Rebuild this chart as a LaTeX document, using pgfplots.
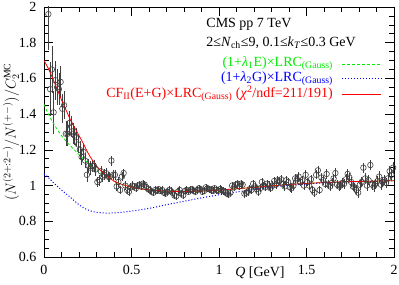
\documentclass[border=0pt]{standalone}
\usepackage{fontspec}
\setmainfont{Liberation Serif}
\usepackage{pgfplots}
\usepackage{pgfplotstable}
\pgfplotsset{compat=1.18}
\definecolor{rgreen}{RGB}{0,235,0}
\definecolor{rblue}{RGB}{0,0,255}
\definecolor{rred}{RGB}{255,0,0}
\pgfplotstableread{
q v e
0.025 1.96 0.20
0.035 1.54 0.15
0.045 1.65 0.13
0.055 1.41 0.12
0.065 1.59 0.11
0.075 1.55 0.10
0.085 1.54 0.09
0.095 1.58 0.09
0.105 1.43 0.08
0.115 1.45 0.08
0.125 1.29 0.07
0.135 1.29 0.07
0.145 1.35 0.065
0.155 1.33 0.06
0.165 1.29 0.06
0.175 1.28 0.055
0.185 1.27 0.05
0.195 1.23 0.05
0.205 1.20 0.05
0.215 1.16 0.045
0.225 1.19 0.045
0.235 1.14 0.04
0.245 1.06 0.04
0.255 1.11 0.04
0.265 1.10 0.04
0.275 1.11 0.035
0.285 1.11 0.035
0.295 1.09 0.035
0.305 1.02 0.03
0.315 1.03 0.03
0.325 1.08 0.03
0.335 1.05 0.03
0.345 1.06 0.03
0.355 1.07 0.03
0.365 1.05 0.028
0.375 1.05 0.028
0.385 1.14 0.028
0.395 1.06 0.027
0.405 1.06 0.027
0.415 0.995 0.026
0.425 1.02 0.026
0.435 0.975 0.025
0.445 1.05 0.025
0.455 1.07 0.025
0.465 1.00 0.024
0.475 0.975 0.024
0.485 0.965 0.023
0.495 0.99 0.023
0.505 1.00 0.023
0.515 0.995 0.022
0.525 0.985 0.022
0.535 1.00 0.022
0.545 1.005 0.022
0.555 0.995 0.021
0.565 1.01 0.021
0.575 1.005 0.021
0.585 0.99 0.021
0.595 0.98 0.02
0.605 0.975 0.02
0.615 0.965 0.02
0.625 0.96 0.02
0.635 0.975 0.02
0.645 0.97 0.02
0.655 0.98 0.02
0.665 0.97 0.02
0.675 0.975 0.02
0.685 0.96 0.02
0.695 0.955 0.02
0.705 0.965 0.02
0.715 0.975 0.02
0.725 0.97 0.02
0.735 0.96 0.02
0.745 0.945 0.02
0.755 0.94 0.02
0.765 0.965 0.02
0.775 0.975 0.02
0.785 0.955 0.02
0.795 0.945 0.02
0.805 0.97 0.02
0.815 0.975 0.02
0.825 0.965 0.02
0.835 0.975 0.02
0.845 0.98 0.02
0.855 0.97 0.02
0.865 0.965 0.02
0.875 0.975 0.02
0.885 0.985 0.02
0.895 0.98 0.02
0.905 0.965 0.02
0.915 0.97 0.02
0.925 0.99 0.02
0.935 0.985 0.02
0.945 0.98 0.02
0.955 0.975 0.02
0.965 0.97 0.02
0.975 0.985 0.02
0.985 0.975 0.02
0.995 0.97 0.02
1.005 0.98 0.021
1.015 0.975 0.021
1.025 0.97 0.021
1.035 0.965 0.021
1.045 0.955 0.021
1.055 0.95 0.021
1.065 0.96 0.021
1.075 1.00 0.021
1.085 0.99 0.021
1.095 1.005 0.021
1.105 1.01 0.021
1.115 0.995 0.021
1.125 1.01 0.021
1.135 1.005 0.022
1.145 0.955 0.022
1.155 0.96 0.022
1.165 0.965 0.022
1.175 0.98 0.022
1.185 0.975 0.022
1.195 1.01 0.022
1.205 0.995 0.022
1.215 0.98 0.022
1.225 0.965 0.022
1.235 0.985 0.022
1.245 1.02 0.022
1.255 1.00 0.022
1.265 0.99 0.022
1.275 1.01 0.022
1.285 1.00 0.023
1.295 0.985 0.023
1.305 1.00 0.023
1.315 1.025 0.023
1.325 1.005 0.023
1.335 1.03 0.023
1.345 1.025 0.023
1.355 1.035 0.023
1.365 1.01 0.023
1.375 0.995 0.023
1.385 1.03 0.024
1.395 1.02 0.024
1.405 0.99 0.024
1.415 0.985 0.024
1.425 1.00 0.024
1.435 1.04 0.024
1.445 1.035 0.024
1.455 1.05 0.024
1.465 1.02 0.024
1.475 1.03 0.025
1.485 1.00 0.025
1.495 1.06 0.025
1.505 1.02 0.025
1.515 1.00 0.025
1.525 1.035 0.025
1.535 0.975 0.025
1.545 0.96 0.025
1.555 1.06 0.025
1.565 1.085 0.025
1.575 0.975 0.025
1.585 1.045 0.026
1.595 1.03 0.026
1.605 1.01 0.026
1.615 1.065 0.026
1.625 1.005 0.026
1.635 0.995 0.026
1.645 1.015 0.026
1.655 1.04 0.026
1.665 1.07 0.026
1.675 1.005 0.026
1.685 0.995 0.027
1.695 1.00 0.027
1.705 1.015 0.027
1.715 1.01 0.027
1.725 1.035 0.027
1.735 1.065 0.027
1.745 1.045 0.027
1.755 1.02 0.027
1.765 0.995 0.027
1.775 0.99 0.027
1.785 0.975 0.028
1.795 0.96 0.028
1.805 1.005 0.028
1.815 1.02 0.028
1.825 1.10 0.028
1.835 1.04 0.028
1.845 1.00 0.028
1.855 1.03 0.028
1.865 1.115 0.028
1.875 1.005 0.028
1.885 0.995 0.029
1.895 1.01 0.029
1.905 1.025 0.029
1.915 1.05 0.029
1.925 1.005 0.029
1.935 1.02 0.029
1.945 1.03 0.029
1.955 1.015 0.029
1.965 1.04 0.03
1.975 1.08 0.03
1.985 1.06 0.03
1.995 1.10 0.03
}\datatable
\begin{document}
\begin{tikzpicture}
\begin{axis}[
  name=ax,
  width=350pt, height=250pt, scale only axis,
  xmin=0, xmax=2, ymin=0.6, ymax=2,
  xtick={0,0.5,1,1.5,2}, ytick={0.6,0.8,1,1.2,1.4,1.6,1.8,2},
  minor x tick num=4, minor y tick num=3,
  tick align=inside, xtick pos=both, ytick pos=both,
  major tick length=9pt, minor tick length=5pt,
  axis line style={line width=0.9pt},
  every tick/.style={black, line width=0.7pt},
  font=\fontsize{14}{16}\selectfont,
  /pgf/number format/assume math mode=true,
  ticklabel style={font=\fontsize{14}{16}\selectfont},
  yticklabel style={xshift=-4pt},
  xticklabel style={yshift=-5pt},
  xlabel={\textit{Q} [GeV]},
  xlabel style={at={(axis description cs:0.617,0)}, anchor=north, yshift=-5pt, inner sep=4.7pt},
  ylabel={$(N^{(2+:2-)}/N^{(+-)})/C_2^{\mathrm{MC}}$},
  ylabel style={at={(axis description cs:-0.094,0.5)}, anchor=center},
]
\addplot[only marks, mark=o, mark size=2.8pt, black!75, mark options={line width=0.6pt},
  error bars/.cd, y dir=both, y explicit,
  error bar style={black!75, line width=0.6pt}, error mark=none]
  table[x=q, y=v, y error=e] {\datatable};
\addplot[draw=rgreen, dash pattern=on 3pt off 2pt, line width=0.8pt, smooth] coordinates {
(0,1.455) (0.025,1.40) (0.05,1.355) (0.075,1.315) (0.1,1.28) (0.125,1.25) (0.15,1.223) (0.175,1.198) (0.2,1.173) (0.225,1.15) (0.25,1.128) (0.275,1.108) (0.3,1.09) (0.325,1.072) (0.35,1.058) (0.375,1.043) (0.4,1.025) (0.45,1.005) (0.5,0.992) (0.55,0.982) (0.6,0.976) (0.7,0.969) (0.8,0.966) (0.9,0.969) (1.0,0.975) (1.1,0.982) (1.2,0.99) (1.3,0.998) (1.4,1.006) (1.5,1.012) (1.6,1.017) (1.7,1.021) (1.8,1.023) (1.9,1.025) (2.0,1.027)};
\addplot[draw=rblue, dotted, line width=1pt, smooth] coordinates {
(0,1.065) (0.025,1.045) (0.05,1.02) (0.075,0.997) (0.1,0.975) (0.125,0.955) (0.15,0.935) (0.175,0.913) (0.2,0.893) (0.225,0.876) (0.25,0.864) (0.275,0.855) (0.3,0.85) (0.35,0.846) (0.4,0.847) (0.45,0.851) (0.5,0.857) (0.6,0.872) (0.7,0.893) (0.8,0.912) (0.9,0.931) (1.0,0.948) (1.1,0.964) (1.2,0.978) (1.3,0.991) (1.4,1.001) (1.5,1.009) (1.6,1.015) (1.7,1.019) (1.8,1.022) (1.9,1.024) (2.0,1.026)};
\addplot[draw=rred, line width=0.8pt, smooth] coordinates {
(0,1.70) (0.025,1.655) (0.05,1.60) (0.075,1.54) (0.1,1.48) (0.125,1.425) (0.15,1.37) (0.175,1.325) (0.2,1.28) (0.225,1.235) (0.25,1.185) (0.275,1.145) (0.3,1.11) (0.325,1.083) (0.35,1.062) (0.375,1.043) (0.4,1.025) (0.45,1.005) (0.5,0.992) (0.55,0.982) (0.6,0.976) (0.7,0.969) (0.8,0.966) (0.9,0.969) (1.0,0.975) (1.1,0.982) (1.2,0.99) (1.3,0.998) (1.4,1.006) (1.5,1.012) (1.6,1.017) (1.7,1.021) (1.8,1.023) (1.9,1.025) (2.0,1.027)};
% legend (text and key lines)
\node[anchor=east, text=rgreen, inner sep=0pt] at (axis description cs:0.826,0.772) {(1+\textit{λ}\textsubscript{1}E)×LRC\textsubscript{(Gauss)}};
\node[anchor=east, text=rblue, inner sep=0pt] at (axis description cs:0.826,0.712) {(1+\textit{λ}\textsubscript{2}G)×LRC\textsubscript{(Gauss)}};
\node[anchor=east, text=rred, inner sep=0pt] at (axis description cs:0.826,0.652) {CF\textsubscript{II}(E+G)×LRC\textsubscript{(Gauss)} (\textit{χ}\textsuperscript{2}/ndf=211/191)};
\draw[draw=rgreen, dash pattern=on 3pt off 2pt, line width=0.8pt] (axis description cs:0.851,0.772) -- (axis description cs:0.963,0.772);
\draw[draw=rblue, dotted, line width=1pt] (axis description cs:0.851,0.712) -- (axis description cs:0.963,0.712);
\draw[draw=rred, line width=0.8pt] (axis description cs:0.851,0.652) -- (axis description cs:0.963,0.652);
\node[anchor=west] at (axis description cs:0.454,0.932) {CMS pp 7 TeV};
\node[anchor=west] at (axis description cs:0.454,0.856) {2≤\textit{N}\textsubscript{ch}≤9, 0.1≤\textit{k}\textsubscript{\textit{T}}≤0.3 GeV};
\end{axis}
\pgfresetboundingbox
\path[use as bounding box] ([shift={(-44pt,-28pt)}]ax.south west) rectangle ([shift={(5pt,7pt)}]ax.north east);
\end{tikzpicture}
\end{document}
